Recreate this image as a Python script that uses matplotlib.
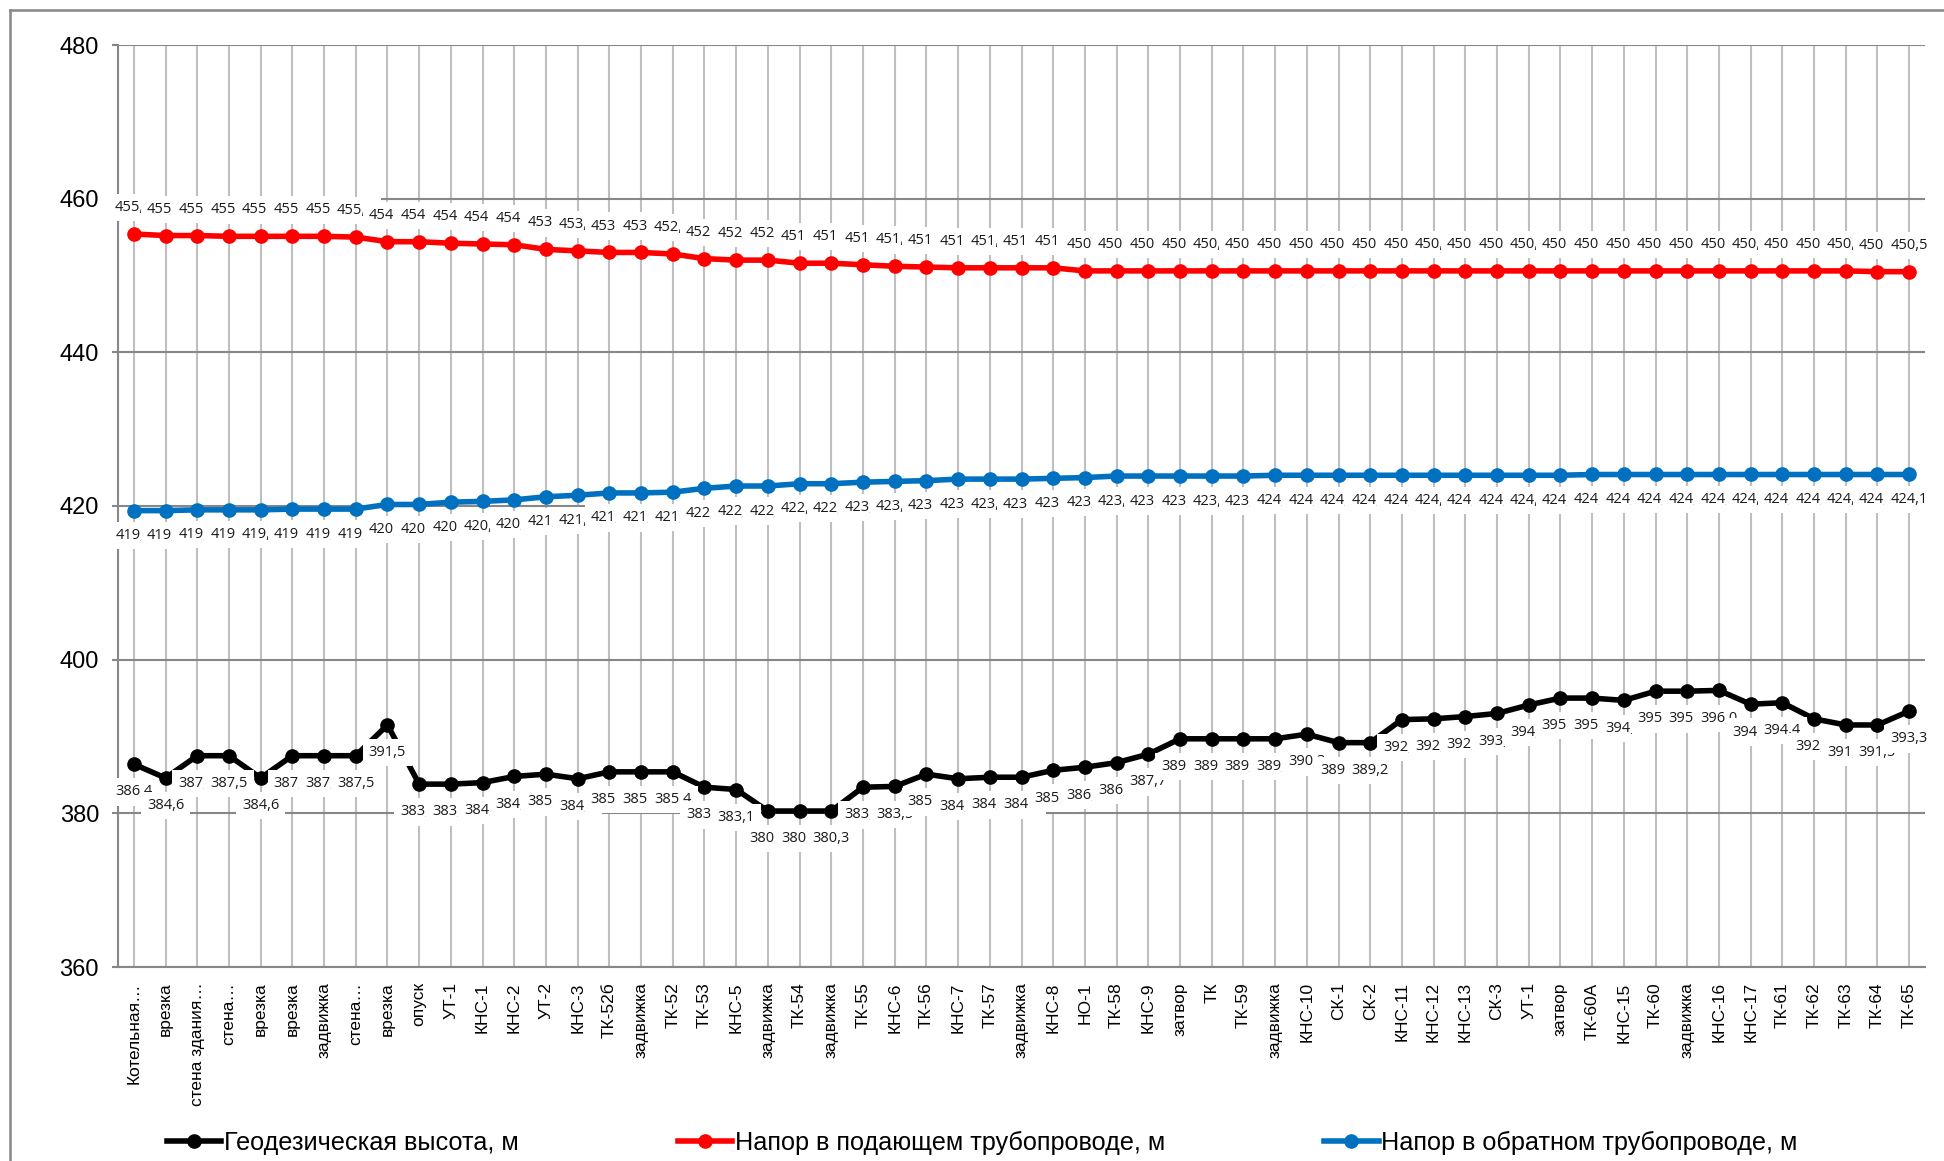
import numpy as np
import matplotlib
matplotlib.use("Agg")
import matplotlib.pyplot as plt
from matplotlib.lines import Line2D

plt.rcParams['font.family'] = ['Liberation Sans', 'DejaVu Sans']

# Точки трассы теплосети
categories = [
    "Котельная…", "врезка", "стена здания…", "стена…", "врезка", "врезка",
    "задвижка", "стена…", "врезка", "опуск", "УТ-1", "КНС-1", "КНС-2", "УТ-2",
    "КНС-3", "ТК-52б", "задвижка", "ТК-52", "ТК-53", "КНС-5", "задвижка",
    "ТК-54", "задвижка", "ТК-55", "КНС-6", "ТК-56", "КНС-7", "ТК-57",
    "задвижка", "КНС-8", "НО-1", "ТК-58", "КНС-9", "затвор", "ТК", "ТК-59",
    "задвижка", "КНС-10", "СК-1", "СК-2", "КНС-11", "КНС-12", "КНС-13",
    "СК-3", "УТ-1", "затвор", "ТК-60А", "КНС-15", "ТК-60", "задвижка",
    "КНС-16", "КНС-17", "ТК-61", "ТК-62", "ТК-63", "ТК-64", "ТК-65",
]

# Геодезическая высота, м
ground = [
    386.4, 384.6, 387.5, 387.5, 384.6, 387.5, 387.5, 387.5, 391.5,
    383.8, 383.8, 384.0, 384.8, 385.1, 384.5, 385.4, 385.4, 385.4,
    383.4, 383.1, 380.3, 380.3, 380.3, 383.4, 383.5, 385.1, 384.5,
    384.7, 384.7, 385.6, 386.0, 386.6, 387.7, 389.7, 389.7, 389.7,
    389.7, 390.3, 389.2, 389.2, 392.2, 392.3, 392.6, 393.0, 394.1,
    395.0, 395.0, 394.7, 395.9, 395.9, 396.0, 394.2, 394.4, 392.3,
    391.5, 391.5, 393.3,
]

# Напор в подающем трубопроводе, м
supply = (
    [455.4, 455.2, 455.2, 455.1, 455.1, 455.1, 455.1, 455.0]
    + [454.4, 454.4, 454.2, 454.1, 454.0]
    + [453.4, 453.2, 453.0, 453.0]
    + [452.8, 452.2, 452.0, 452.0]
    + [451.6, 451.6, 451.4, 451.2, 451.1, 451.0, 451.0, 451.0, 451.0]
    + [450.6] * 25
    + [450.5, 450.5]
)

# Напор в обратном трубопроводе, м
ret = (
    [419.4, 419.4, 419.5, 419.5, 419.5, 419.6, 419.6, 419.6]
    + [420.2, 420.2, 420.5, 420.6, 420.8, 421.2, 421.4, 421.7, 421.7, 421.8]
    + [422.3, 422.6, 422.6, 422.9, 422.9, 423.1, 423.2, 423.3, 423.5, 423.5,
       423.5, 423.6, 423.7]
    + [423.9] * 5
    + [424.0] * 10
    + [424.1] * 11
)

series_names = [
    "Геодезическая высота, м",
    "Напор в подающем трубопроводе, м",
    "Напор в обратном трубопроводе, м",
]
y_ticks = [360, 380, 400, 420, 440, 460, 480]

W, H = 1944, 1161
fig = plt.figure(figsize=(W / 100, H / 100), dpi=100)
ax = fig.add_axes([118 / W, 1 - 967 / H, (1925 - 118) / W, (967 - 45) / H])

x = np.arange(len(categories))
line_kw = dict(lw=4, marker='o', markersize=9.5, zorder=3)
ax.plot(x, ground, color='black', **line_kw)
ax.plot(x, supply, color='#FF0000', **line_kw)
ax.plot(x, ret, color='#0070C0', **line_kw)


def fmt(v):
    return f"{v:.1f}".replace('.', ',')


# Подписи значений на белой подложке: каждая следующая перекрывает хвост предыдущей
label_kw = dict(textcoords='offset points', ha='center', va='center',
                fontsize=10.5, family=['Open Sans', 'DejaVu Sans'], color='#1a1a1a',
                bbox=dict(boxstyle='square,pad=0.42', fc='white', ec='none'),
                zorder=5)
for xi, v in zip(x, ground):
    ax.annotate(fmt(v), (xi, v), xytext=(0, -20), **label_kw)
for xi, v in zip(x, supply):
    ax.annotate(fmt(v), (xi, v), xytext=(0, 19), **label_kw)
for xi, v in zip(x, ret):
    ax.annotate(fmt(v), (xi, v), xytext=(0, -18), **label_kw)

ax.set_xlim(-0.5, len(categories) - 0.5)
ax.set_ylim(360, 480)
ax.set_yticks(y_ticks)
ax.set_xticks(x)
ax.set_xticklabels(categories, rotation=90, va='top', ha='center')

ax.set_axisbelow(True)
ax.grid(axis='x', color='#BFBFBF', lw=1.5)
ax.grid(axis='y', color='#878787', lw=1.5)

for s in ('top', 'right'):
    ax.spines[s].set_visible(False)
for s in ('left', 'bottom'):
    ax.spines[s].set_color('#878787')
    ax.spines[s].set_linewidth(1.5)

ax.tick_params(axis='x', length=0, pad=11, labelsize=12.5)
ax.tick_params(axis='y', length=4.3, width=1.5, color='#878787', pad=9.4,
               labelsize=17)

# Рамка области диаграммы
fig.add_artist(Line2D([10 / W, 10 / W], [0, 1 - 10 / H], transform=fig.transFigure,
                      color='#878787', lw=1.8))
fig.add_artist(Line2D([10 / W, 1], [1 - 10 / H, 1 - 10 / H], transform=fig.transFigure,
                      color='#878787', lw=1.8))

handles = [
    Line2D([], [], color=c, lw=4, marker='o', markersize=9.5)
    for c in ('black', '#FF0000', '#0070C0')
]
fig.legend(handles, series_names, loc='center left',
           bbox_to_anchor=(167 / W, 1 - 1143 / H), ncol=3, frameon=False,
           fontsize=18.2, handlelength=2.15, handletextpad=0.1,
           columnspacing=6.3, borderpad=0, borderaxespad=0)

fig.savefig("out.png", dpi=100)
